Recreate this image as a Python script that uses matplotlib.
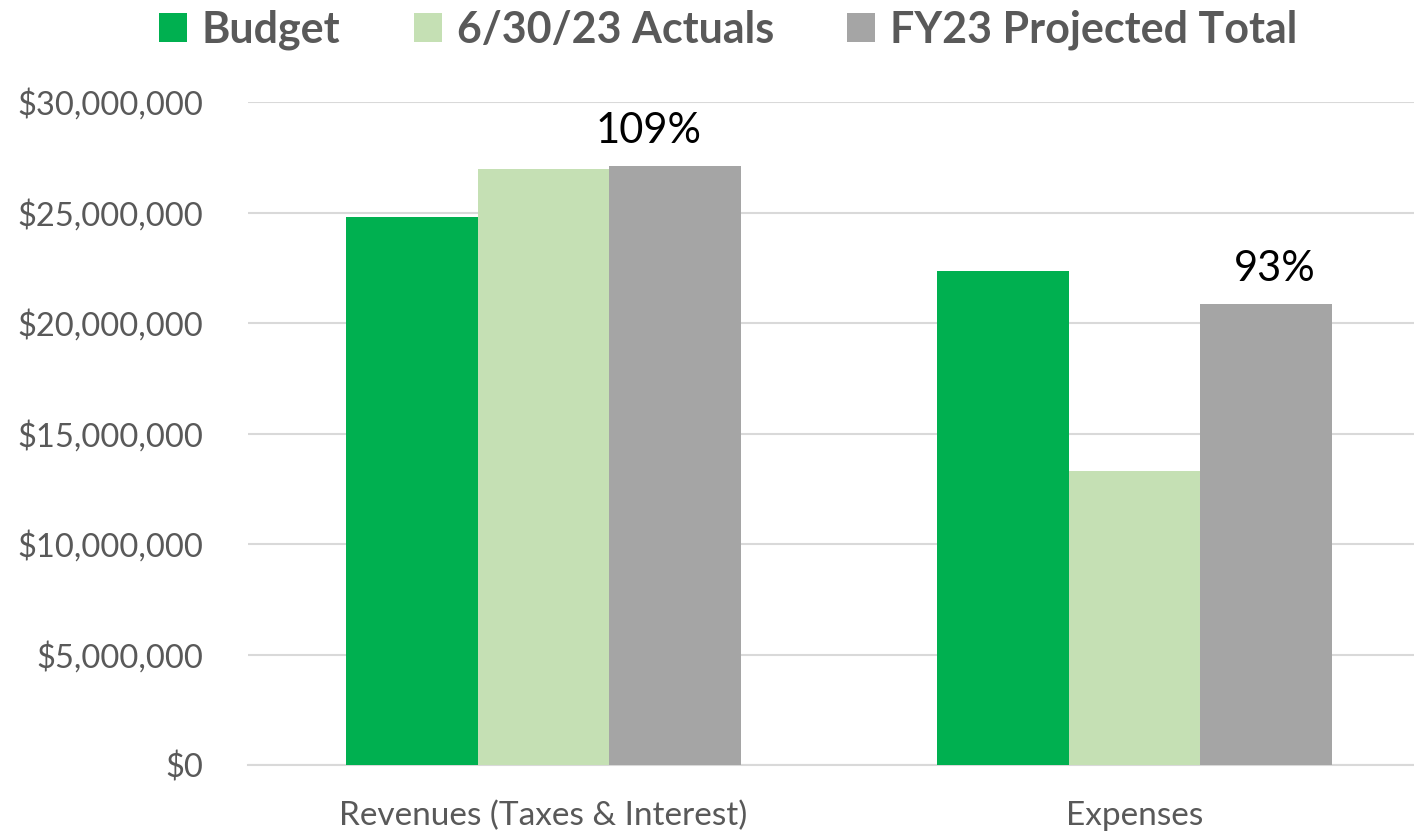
import matplotlib.pyplot as plt
from matplotlib.ticker import FuncFormatter

# Budget vs actuals vs projected, FY23
categorias = ['Revenues (Taxes & Interest)', 'Expenses']
series = ['Budget', '6/30/23 Actuals', 'FY23 Projected Total']
budget = [24800000, 22350000]
actuals = [26950000, 13300000]
projetado = [27100000, 20850000]
percentuais = ['109%', '93%']

cores = ['#00B050', '#C5E0B4', '#A5A5A5']
cinza = '#595959'

plt.rcParams['font.family'] = ['Lato', 'DejaVu Sans']

fig = plt.figure(figsize=(14.14, 8.31), dpi=100)
ax = fig.add_axes([248/1414, 1 - 765/831, (1430 - 248)/1414, 663/831])

largura = 0.2225
x = range(len(categorias))
valores = [budget, actuals, projetado]
for i, (nome, vals) in enumerate(zip(series, valores)):
    pos = [xi + (i - 1) * largura for xi in x]
    ax.bar(pos, vals, largura, color=cores[i], label=nome, zorder=3)

# rotulos de percentual acima da barra projetada (deslocados como no original)
desloc = [-0.045, 0.015]
for xi, v, p, d in zip(x, projetado, percentuais, desloc):
    ax.text(xi + largura + d, v + 750000, p, ha='center', va='bottom', fontsize=30, color='black')

ax.set_xlim(-0.5, 1.5)
ax.set_ylim(0, 30000000)
ax.set_yticks(range(0, 30000001, 5000000))
ax.yaxis.set_major_formatter(FuncFormatter(lambda v, _: '${:,.0f}'.format(v)))
ax.set_xticks(list(x))
ax.set_xticklabels(categorias)
ax.tick_params(axis='y', length=0, pad=32, labelsize=23.5, labelcolor=cinza)
ax.tick_params(axis='x', length=0, pad=26, labelsize=24, labelcolor=cinza)
ax.grid(axis='y', color='#D9D9D9', linewidth=1.5, zorder=0)
for s in ['top', 'right', 'left']:
    ax.spines[s].set_visible(False)
ax.spines['bottom'].set_color('#D9D9D9')
ax.spines['bottom'].set_linewidth(1.5)

leg = fig.legend(loc='upper center', bbox_to_anchor=(0.515, 1.035), ncol=3, frameon=False,
                 handlelength=0.65, handleheight=0.65, handletextpad=0.35, columnspacing=1.7,
                 prop={'weight': 'bold', 'size': 31})
for t in leg.get_texts():
    t.set_color(cinza)

fig.savefig('out.png', dpi=100)
